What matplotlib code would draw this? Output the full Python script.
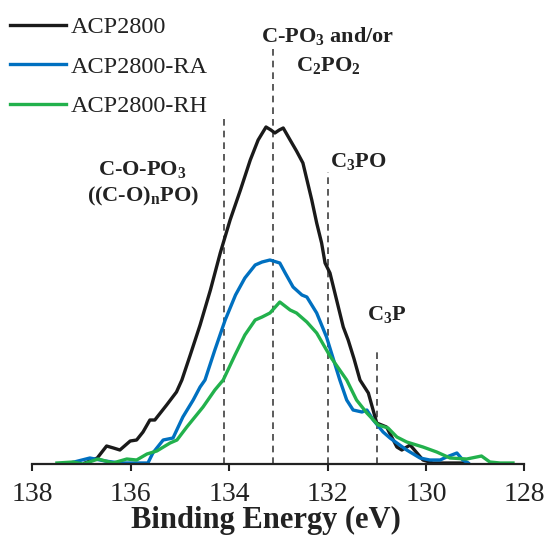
import matplotlib
matplotlib.use("Agg")
import matplotlib.pyplot as plt

# binding energy (eV) and intensity (a.u.)
acp_e = [136.93, 136.68, 136.49, 136.35, 136.22, 136.01, 135.88, 135.75, 135.61, 135.51,
         135.27, 135.07, 134.96, 134.79, 134.59, 134.38, 134.18, 133.98, 133.77, 133.57,
         133.41, 133.25, 133.15, 133.07, 132.98, 132.90, 132.76, 132.63, 132.50, 132.32,
         132.22, 132.12, 132.05, 131.95, 131.85, 131.68, 131.58, 131.46, 131.34, 131.17,
         131.00, 130.80, 130.59, 130.49, 130.32, 130.06, 129.86, 129.17]
acp_i = [1, 6, 18, 16, 14, 23, 24, 32, 44, 44,
         59, 72, 84, 109, 139, 174, 211, 244, 274, 304,
         324, 337, 334, 331, 334, 336, 324, 313, 301, 264,
         241, 221, 201, 191, 171, 137, 124, 105, 84, 71,
         41, 37, 17, 14, 19, 4, 1, 1]

ra_e = [137.23, 136.83, 136.52, 136.22, 135.65, 135.55, 135.34, 135.14, 134.94, 134.73,
        134.59, 134.49, 134.29, 134.08, 133.87, 133.68, 133.47, 133.33, 133.17, 132.97,
        132.86, 132.70, 132.52, 132.42, 132.22, 132.02, 131.75, 131.61, 131.48, 131.30,
        131.20, 131.07, 130.87, 130.73, 130.59, 130.39, 130.12, 129.92, 129.71, 129.58,
        129.37, 129.25, 129.14]
ra_i = [1, 6, 3, 1, 1, 11, 24, 26, 47, 64,
        77, 84, 114, 144, 169, 186, 199, 202, 204, 201,
        191, 177, 169, 167, 151, 127, 84, 64, 54, 52,
        54, 44, 32, 26, 21, 14, 6, 4, 4, 7,
        11, 4, 1]

rh_e = [137.50, 137.17, 136.97, 136.66, 136.36, 136.08, 135.88, 135.67, 135.47, 135.20,
        135.06, 134.86, 134.53, 134.29, 134.12, 133.88, 133.68, 133.47, 133.33, 133.17,
        132.97, 132.76, 132.63, 132.42, 132.22, 131.95, 131.61, 131.41, 131.20, 130.97,
        130.77, 130.59, 130.39, 130.06, 129.78, 129.51, 129.17, 128.87, 128.70, 128.49,
        128.23]
rh_i = [1, 2, 0, 5, 1, 5, 4, 10, 13, 21,
        24, 37, 57, 74, 84, 109, 129, 144, 147, 151,
        162, 154, 151, 142, 131, 108, 84, 64, 51, 39,
        36, 27, 22, 17, 12, 6, 5, 8, 2, 1,
        1]

# reference peak positions and the height of each marker line
peak_e = [134.1, 133.1, 132.0, 131.0]
peak_top = [345, 416, 292, 112]

plt.rcParams["font.family"] = ["Liberation Serif", "DejaVu Serif"]
plt.rcParams["mathtext.fontset"] = "custom"
plt.rcParams["mathtext.rm"] = "Liberation Serif"
plt.rcParams["mathtext.bf"] = "Liberation Serif:bold"

fig = plt.figure(figsize=(5.44, 5.35), dpi=100)
ax = fig.add_axes([0.0594, 0.1327, 0.9044, 0.8673])

for e, top in zip(peak_e, peak_top):
    ax.plot([e, e], [0, top], color="#404040", lw=1.2, ls=(0, (4, 3)))

ax.plot(acp_e, acp_i, color="#1a1a1a", lw=2.4, label="ACP2800")
ax.plot(ra_e, ra_i, color="#0070C0", lw=2.4, label="ACP2800-RA")
ax.plot(rh_e, rh_i, color="#22B14C", lw=2.4, label="ACP2800-RH")

bold = dict(fontsize=16, fontweight="bold", color="#222222")
ax.text(131.99, 427, r"C-PO$_\mathbf{3}$ and/or", ha="center", va="center", **bold)
ax.text(131.99, 398, r"C$_\mathbf{2}$PO$_\mathbf{2}$", ha="center", va="center", **bold)
ax.text(135.77, 294, r"C-O-PO$_\mathbf{3}$", ha="center", va="center", **bold)
ax.text(135.76, 268, r"((C-O)$_\mathbf{n}$PO)", ha="center", va="center", **bold)
ax.text(131.95, 302, r"C$_\mathbf{3}$PO", ha="left", va="center", **bold)
ax.text(131.20, 149, r"C$_\mathbf{3}$P", ha="left", va="center", **bold)

ax.set_xlim(138, 128)
ax.set_ylim(0, 464)
ax.set_xticks([138, 136, 134, 132, 130, 128])
ax.tick_params(axis="x", labelsize=20, length=5, width=1.5, pad=8,
               direction="out", colors="#222222")
ax.set_yticks([])
for s in ["left", "right", "top"]:
    ax.spines[s].set_visible(False)
ax.spines["bottom"].set_linewidth(1.6)
ax.spines["bottom"].set_color("#222222")
ax.set_xlabel("Binding Energy (eV)", fontsize=22, fontweight="bold", labelpad=2, color="#222222")
ax.xaxis.set_label_coords(0.475, -0.091)

ax.legend(loc="upper left", bbox_to_anchor=(0.0, 0.9876), bbox_transform=fig.transFigure,
          frameon=False, fontsize=17.5, handlelength=2.3, handletextpad=0.2,
          labelspacing=0.72, borderaxespad=0.0, labelcolor="#222222")

fig.savefig("out.png", dpi=100)
